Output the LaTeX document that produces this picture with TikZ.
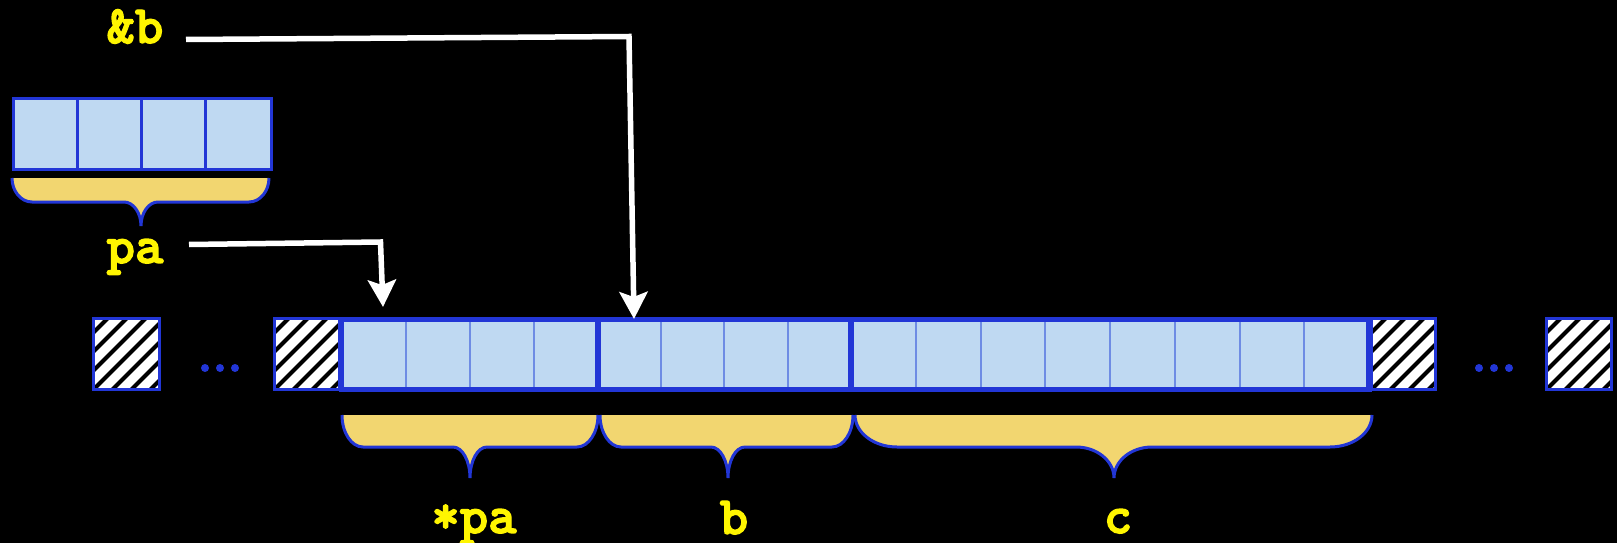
\documentclass[tikz,border=0pt]{standalone}
\usepackage{fontspec}
\newfontfamily\codefont{lmmonolt10-bold.otf}[FakeBold=2.5]
\usetikzlibrary{arrows.meta}
\definecolor{bblue}{RGB}{34,54,214}
\definecolor{cellfill}{RGB}{191,217,242}
\definecolor{thinblue}{RGB}{110,140,228}
\definecolor{bracefill}{RGB}{242,214,112}
\definecolor{lblyellow}{RGB}{255,245,0}
\newcommand\mybrace[8]{%
 \fill[bracefill] (#1,#4) .. controls (#1,{#4+0.552*(#5-#4)}) and ({#1+0.448*#7},#5) .. ({#1+#7},#5)
 -- ({#3-#8},#5) .. controls ({#3-0.448*#8},#5) and (#3,{#6-0.552*(#6-#5)}) .. (#3,#6)
 .. controls (#3,{#6-0.552*(#6-#5)}) and ({#3+0.448*#8},#5) .. ({#3+#8},#5)
 -- ({#2-#7},#5) .. controls ({#2-0.448*#7},#5) and (#2,{#4+0.552*(#5-#4)}) .. (#2,#4) -- cycle;
 \draw[bracestroke] (#1,#4) .. controls (#1,{#4+0.552*(#5-#4)}) and ({#1+0.448*#7},#5) .. ({#1+#7},#5)
 -- ({#3-#8},#5) .. controls ({#3-0.448*#8},#5) and (#3,{#6-0.552*(#6-#5)}) .. (#3,#6)
 .. controls (#3,{#6-0.552*(#6-#5)}) and ({#3+0.448*#8},#5) .. ({#3+#8},#5)
 -- ({#2-#7},#5) .. controls ({#2-0.448*#7},#5) and (#2,{#4+0.552*(#5-#4)}) .. (#2,#4);
}
\newcommand\hatchbox[4]{%
 \begin{scope}
 \clip (#1,#2) rectangle (#3,#4);
 \fill[white] (#1,#2) rectangle (#3,#4);
 \foreach \k in {-5,...,5}{\draw[black,line width=4.2pt] ({#1+\k*19},#4) -- ++(90,-90);}
 \end{scope}
 \draw[bblue,line width=3pt] (#1,#2) rectangle (#3,#4);
}
\begin{document}
\begin{tikzpicture}[x=1pt,y=-1pt,
  lbl/.style={text=lblyellow,font=\fontsize{54}{54}\selectfont\codefont,anchor=base,inner sep=0pt},
  arr/.style={draw=white,line width=5.5pt,line join=miter,-{Stealth[width=28pt,length=27pt,inset=5pt]}},
  bracestroke/.style={draw=bblue,line width=3pt},
  thindiv/.style={draw=thinblue,line width=2pt},
  thickdiv/.style={draw=bblue,line width=5.5pt},
  dotb/.style={fill=bblue}]
\fill[black] (0,0) rectangle (1617,543);
\useasboundingbox (0,0) rectangle (1617,543);

% small array
\fill[cellfill] (13.5,98.5) rectangle (271.5,169.5);
\foreach \x in {77,141,205}{\draw[bblue,line width=3pt] (\x,98.5) -- (\x,169.5);}
\draw[bblue,line width=3pt] (13.5,98.5) rectangle (271.5,169.5);
\mybrace{12}{269}{141}{178}{202}{226}{20}{17}

% main row
\fill[cellfill] (341.5,319.5) rectangle (1369,389.5);
\foreach \x in {406,470,534, 661,724,788, 916,981,1045,1110,1175,1240,1304}{\draw[thindiv] (\x,321) -- (\x,388);}
\draw[thickdiv] (598,319.5) -- (598,389.5);
\draw[thickdiv] (851,319.5) -- (851,389.5);
\draw[thickdiv] (341.5,319.5) rectangle (1369,389.5);

\hatchbox{93.5}{318.5}{159.5}{389.5}
\hatchbox{274.5}{318.5}{339}{389.5}
\hatchbox{1371.5}{318.5}{1435.5}{389.5}
\hatchbox{1546.5}{318.5}{1611.5}{389.5}

\foreach \x in {205,220,235,1479,1494,1509}{\fill[dotb] (\x,368) circle (4);}

% braces
\mybrace{342}{598}{470}{415}{447}{478}{21}{17}
\mybrace{600}{853}{728}{415}{447}{478}{21}{17}
\mybrace{855}{1372}{1114}{415}{447}{478}{42}{38}

% labels
\node[lbl] (amp) at (135,43) {\&b};
\node[lbl] (pa) at (135,263) {pa};
\node[lbl] (starpa) at (474,533) {*pa};
\node[lbl] (lb) at (734,534) {b};
\node[lbl] (lc) at (1118,533) {c};

% arrows
\coordinate (ab0) at (186,39.5);
\coordinate (ab1) at (629,36.5);
\coordinate (ab2) at (634,319);
\draw[arr] (ab0) -- (ab1) -- (ab2);
\coordinate (pa0) at (189,244.5);
\coordinate (pa1) at (380.5,242);
\coordinate (pa2) at (383,307);
\draw[arr] (pa0) -- (pa1) -- (pa2);
\end{tikzpicture}
\end{document}
